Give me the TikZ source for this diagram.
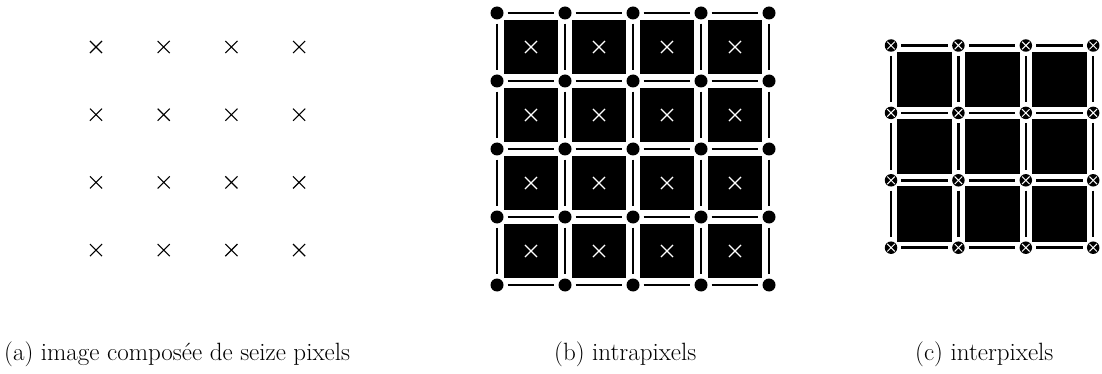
\documentclass[tikz,border=0pt]{standalone}
\usepackage{fontspec}
\usetikzlibrary{shapes.misc}
\begin{document}
\begin{tikzpicture}[x=1pt,y=-1pt,
  pixcross/.style={cross out, draw=black, line width=1.1pt, minimum size=11pt, inner sep=0pt},
  wcross/.style={cross out, draw=white, line width=1.1pt, minimum size=11pt, inner sep=0pt},
  bigdot/.style={circle, fill=black, minimum size=13pt, inner sep=0pt},
  xdot/.style={circle, fill=black, minimum size=12.5pt, inner sep=0pt},
  dotx/.style={cross out, draw=white, line width=1pt, minimum size=6.5pt, inner sep=0pt},
  pixsq/.style={rectangle, fill=black, minimum size=54pt, inner sep=0pt},
  pixsqc/.style={rectangle, fill=black, minimum size=55pt, inner sep=0pt},
  edge/.style={line width=2.5pt, shorten <=4pt, shorten >=4pt},
  caption/.style={anchor=base west, inner sep=0pt, font=\fontsize{25}{30}\selectfont}]
\useasboundingbox (0,0) rectangle (1102,374);
% (a) sixteen pixels
\foreach \i in {0,...,3} \foreach \j in {0,...,3}
  \node[pixcross] (a-\i-\j) at ({96+67.7*\i},{47+67.7*\j}) {};
% (b) intrapixels
\foreach \i in {0,...,3} \foreach \j in {0,...,3} {
  \node[pixsq] (bs-\i-\j) at ({531+68*\i},{47+68*\j}) {};
  \node[wcross] (bx-\i-\j) at (bs-\i-\j) {};
}
\foreach \i in {0,...,4} \foreach \j in {0,...,4}
  \node[bigdot] (b-\i-\j) at ({497+68*\i},{13+68*\j}) {};
\foreach \i [count=\k] in {0,...,3} \foreach \j in {0,...,4} {
  \draw[edge] (b-\i-\j) -- (b-\k-\j);
  \draw[edge] (b-\j-\i) -- (b-\j-\k);
}
% (c) interpixels
\foreach \i in {0,...,2} \foreach \j in {0,...,2}
  \node[pixsqc] (cs-\i-\j) at ({891+67.4*\i+33.7},{45.5+67.4*\j+33.7}) {};
\foreach \i in {0,...,3} \foreach \j in {0,...,3} {
  \node[xdot] (c-\i-\j) at ({891+67.4*\i},{45.5+67.4*\j}) {};
  \node[dotx] (cx-\i-\j) at (c-\i-\j) {};
}
\foreach \i [count=\k] in {0,...,2} \foreach \j in {0,...,3} {
  \draw[edge] (c-\i-\j) -- (c-\k-\j);
  \draw[edge] (c-\j-\i) -- (c-\j-\k);
}
% captions
\node[caption] (capa) at (4,360) {(a) image composée de seize pixels};
\node[caption] (capb) at (554,360) {(b) intrapixels};
\node[caption] (capc) at (915,360) {(c) interpixels};
\end{tikzpicture}
\end{document}
